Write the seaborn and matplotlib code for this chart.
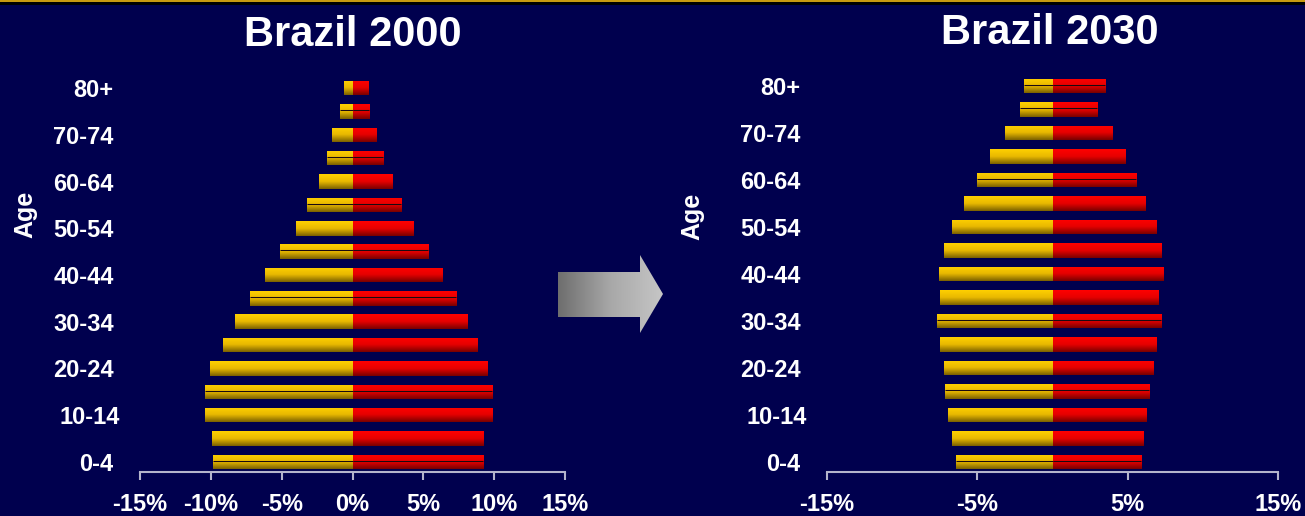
import numpy as np
import pandas as pd
import matplotlib
matplotlib.use("Agg")
import matplotlib.pyplot as plt
import seaborn as sns
from matplotlib.colors import LinearSegmentedColormap
from matplotlib.patches import Polygon, Rectangle
import matplotlib.transforms as mtransforms

# ---------------- data ----------------
ages = ["0-4", "5-9", "10-14", "15-19", "20-24", "25-29", "30-34", "35-39",
        "40-44", "45-49", "50-54", "55-59", "60-64", "65-69", "70-74",
        "75-79", "80+"]
# percent of population by sex (left side = yellow, right side = red)
male_2000 = [9.85, 9.94, 10.43, 10.43, 10.08, 9.16, 8.32, 7.27, 6.20,
             5.09, 4.01, 3.18, 2.39, 1.83, 1.42, 0.86, 0.60]
female_2000 = [9.23, 9.23, 9.84, 9.84, 9.49, 8.79, 8.09, 7.30, 6.34,
               5.34, 4.29, 3.45, 2.80, 2.18, 1.67, 1.18, 1.08]
male_2030 = [6.39, 6.67, 6.95, 7.15, 7.20, 7.48, 7.67, 7.48, 7.53,
             7.20, 6.67, 5.87, 5.00, 4.14, 3.14, 2.14, 1.89]
female_2030 = [5.89, 6.03, 6.22, 6.44, 6.69, 6.89, 7.23, 7.03, 7.37,
               7.23, 6.89, 6.17, 5.56, 4.84, 3.97, 2.97, 3.50]
titles = ["Brazil 2000", "Brazil 2030"]
xticks_2000 = [-15, -10, -5, 0, 5, 10, 15]
xticks_2030 = [-15, -5, 5, 15]
age_labels = ["0-4", "10-14", "20-24", "30-34", "40-44", "50-54",
              "60-64", "70-74", "80+"]
ylabel = "Age"

# rendering seams visible in the original picture (style only)
seams_2000 = ["0-4", "15-19", "35-39", "45-49", "55-59", "65-69", "75-79"]
seams_2030 = ["0-4", "15-19", "30-34", "60-64", "75-79", "80+"]

# ---------------- style ----------------
W, H = 1305, 516
BG = "#00004E"
WHITE = "#FFFFFF"
AXIS = "#B4B4CC"

sns.set_theme(style="white")
plt.rcParams["font.family"] = ["Liberation Sans", "DejaVu Sans"]
plt.rcParams["font.weight"] = "bold"

fig = plt.figure(figsize=(W / 100, H / 100), dpi=100, facecolor=BG)

yellow_cmap = LinearSegmentedColormap.from_list("yel", ["#FFD000", "#E8B800", "#7A6000"])
red_cmap = LinearSegmentedColormap.from_list("red", ["#FF0000", "#E60000", "#780000"])


def frac(x0, y_top, x1, y_bot):
    return [x0 / W, 1 - y_bot / H, (x1 - x0) / W, (y_bot - y_top) / H]


def pyramid(ax, male, female, xticks, ylim, seams):
    order = ages[::-1]
    df = pd.DataFrame({
        "age": ages * 2,
        "sex": ["Male"] * len(ages) + ["Female"] * len(ages),
        "value": [-v for v in male] + list(female),
    })
    sns.barplot(data=df, x="value", y="age", hue="sex", order=order,
                hue_order=["Male", "Female"], dodge=False, orient="h",
                palette={"Male": "#F2C200", "Female": "#FF0000"},
                width=0.62, legend=False, ax=ax, saturation=1)
    grad = np.linspace(0, 1, 64).reshape(-1, 1)
    for p in list(ax.patches):
        x0, w = p.get_x(), p.get_width()
        y0, h = p.get_y(), p.get_height()
        if w == 0:
            continue
        xl, xr = min(x0, x0 + w), max(x0, x0 + w)
        cmap = yellow_cmap if (x0 + w / 2) < 0 else red_cmap
        im = ax.imshow(grad, cmap=cmap, aspect="auto", origin="upper",
                       extent=(xl, xr, y0 + h, y0), zorder=3,
                       interpolation="bilinear")
        im.set_clip_path(p)
        p.set_facecolor("none")
        p.set_edgecolor("none")
        row = order[int(round(y0 + h / 2))]
        if row in seams:
            ax.plot([xl, xr], [y0 + 0.42 * h] * 2, color="#1A0A10", lw=0.75,
                    zorder=4, solid_capstyle="butt")
    ax.set_xlim(-15, 15)
    ax.set_ylim(*ylim)
    ax.set_facecolor("none")
    ax.set_xticks(xticks)
    ax.set_xticklabels([f"{t}%" for t in xticks])
    pos = [order.index(a) for a in age_labels]
    ax.set_yticks(pos)
    ax.set_yticklabels(age_labels)
    for s in ["top", "right", "left"]:
        ax.spines[s].set_visible(False)
    ax.spines["bottom"].set_color(AXIS)
    ax.spines["bottom"].set_linewidth(1.5)
    ax.tick_params(axis="x", bottom=True, colors=AXIS, direction="out",
                   length=6, width=1.5, pad=9, labelsize=17,
                   labelcolor=WHITE)
    ax.tick_params(axis="y", left=False, length=0, pad=19, labelsize=17,
                   labelcolor=WHITE)
    for lab in ax.get_xticklabels() + ax.get_yticklabels():
        lab.set_fontweight("bold")
        lab.set_color(WHITE)
    # the "10-14" label in the reference sits slightly to the right
    for lab in ax.get_yticklabels():
        if lab.get_text() == "10-14":
            lab.set_transform(lab.get_transform() +
                              mtransforms.ScaledTranslation(6 / 100, 0, fig.dpi_scale_trans))
    ax.set_xlabel("")
    ax.set_ylabel("")
    ax.grid(False)


ax1 = fig.add_axes(frac(140, 60, 565, 472))
pyramid(ax1, male_2000, female_2000, xticks_2000, (16.43, -1.2), seams_2000)
ax2 = fig.add_axes(frac(827, 60, 1278, 472.3))
pyramid(ax2, male_2030, female_2030, xticks_2030, (16.44, -1.1), seams_2030)

# titles
fig.text(352.5 / W, 1 - 46 / H, titles[0], ha="center", va="baseline",
         fontsize=30, fontweight="bold", color=WHITE)
fig.text(1050 / W, 1 - 44 / H, titles[1], ha="center", va="baseline",
         fontsize=30, fontweight="bold", color=WHITE)
# Age labels
fig.text(25 / W, 1 - 214 / H, ylabel, rotation=90, ha="center", va="center",
         fontsize=18, fontweight="bold", color=WHITE)
fig.text(692 / W, 1 - 216 / H, ylabel, rotation=90, ha="center", va="center",
         fontsize=18, fontweight="bold", color=WHITE)

# decoration overlay: top rule + arrow
ov = fig.add_axes([0, 0, 1, 1], zorder=-1)
ov.set_xlim(0, W)
ov.set_ylim(H, 0)
ov.axis("off")
ov.set_facecolor("none")
ov.add_patch(Rectangle((0, 0), W, 1.6, color="#C89A10", lw=0))
ov.add_patch(Rectangle((0, 1.6), W, 3.6, color="#000000", lw=0))
arrow = Polygon([(558, 272), (640, 272), (640, 255), (663, 294),
                 (640, 333), (640, 317), (558, 317)], closed=True,
                facecolor="none", edgecolor="none")
ov.add_patch(arrow)
agrad = np.linspace(0, 1, 128).reshape(1, -1)
gcm = LinearSegmentedColormap.from_list("g", ["#6E6E6E", "#A8A8A8", "#C6C6C6"])
aim = ov.imshow(agrad, cmap=gcm, aspect="auto", extent=(558, 663, 333, 255),
                origin="upper", interpolation="bilinear")
aim.set_clip_path(arrow)
ov.set_xlim(0, W)
ov.set_ylim(H, 0)

fig.savefig("out.png", dpi=100, facecolor=BG)
